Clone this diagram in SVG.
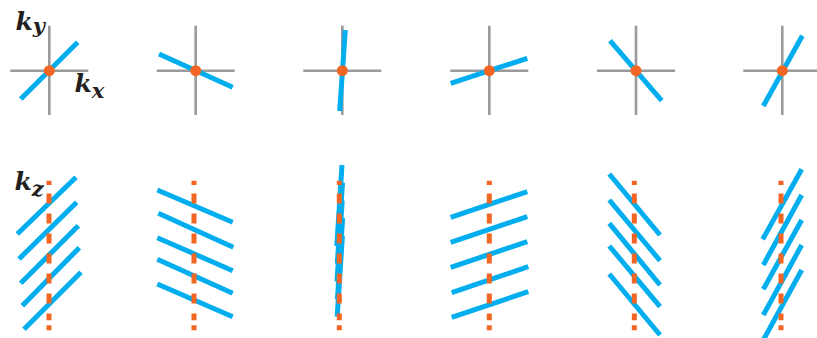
<svg xmlns="http://www.w3.org/2000/svg" width="817" height="338" viewBox="0 0 817 338">
<style>
.ax{stroke:#9a9a9a;stroke-width:2.6;fill:none}
.bl{stroke:#00aeef;stroke-width:5;fill:none}
.dot{fill:#f26522}
.dash{stroke:#f26522;stroke-width:5;fill:none;stroke-dasharray:4.3 8.6 10 10 10 10 10 10 10 10 10 10 10 10 6.7 5 5}
.lbl{font-family:"DejaVu Serif",serif;font-style:italic;font-weight:bold;fill:#231f20}
</style>
<g id="labels" class="lbl">
<text x="15.5" y="30" font-size="25">k<tspan dx="0" dy="3" font-size="21">y</tspan></text>
<text x="74.5" y="92" font-size="25">k<tspan dx="0" dy="6" font-size="21">x</tspan></text>
<text x="14.5" y="190" font-size="25">k<tspan dx="0" dy="6" font-size="21">z</tspan></text>
</g>
<g id="top1">
<line class="ax" x1="49.3" y1="25.7" x2="49.3" y2="115"/><line class="ax" x1="10.3" y1="70.7" x2="88.3" y2="70.7"/>
<line class="bl" x1="20.7" y1="99" x2="77.7" y2="42.3"/><circle class="dot" cx="49.3" cy="70.7" r="5.5"/>
</g>
<g id="top2">
<line class="ax" x1="195.7" y1="25.7" x2="195.7" y2="115"/><line class="ax" x1="156.7" y1="70.7" x2="234.7" y2="70.7"/>
<line class="bl" x1="159" y1="54" x2="232.7" y2="87.3"/><circle class="dot" cx="195.7" cy="70.7" r="5.5"/>
</g>
<g id="top3">
<line class="ax" x1="342.3" y1="25.7" x2="342.3" y2="115"/><line class="ax" x1="303.3" y1="70.7" x2="381.3" y2="70.7"/>
<line class="bl" x1="345.3" y1="30" x2="339.7" y2="111"/><circle class="dot" cx="342.3" cy="70.7" r="5.5"/>
</g>
<g id="top4">
<line class="ax" x1="489.3" y1="25.7" x2="489.3" y2="115"/><line class="ax" x1="450.3" y1="70.7" x2="528.3" y2="70.7"/>
<line class="bl" x1="450.7" y1="83.3" x2="527.3" y2="58.3"/><circle class="dot" cx="489.3" cy="70.7" r="5.5"/>
</g>
<g id="top5">
<line class="ax" x1="636" y1="25.7" x2="636" y2="115"/><line class="ax" x1="597" y1="70.7" x2="675" y2="70.7"/>
<line class="bl" x1="610" y1="40.7" x2="661.7" y2="100.7"/><circle class="dot" cx="636" cy="70.7" r="5.5"/>
</g>
<g id="top6">
<line class="ax" x1="782.3" y1="25.7" x2="782.3" y2="115"/><line class="ax" x1="743.3" y1="70.7" x2="821.3" y2="70.7"/>
<line class="bl" x1="763.3" y1="106" x2="802.3" y2="35.7"/><circle class="dot" cx="782.3" cy="70.7" r="5.5"/>
</g>
<g id="bottom1">
<line class="bl" x1="17.3" y1="234" x2="76" y2="177.3"/>
<line class="bl" x1="19" y1="259" x2="76.7" y2="202.3"/>
<line class="bl" x1="20.7" y1="283.3" x2="78.3" y2="225.7"/>
<line class="bl" x1="22.3" y1="305.7" x2="79.3" y2="247.7"/>
<line class="bl" x1="24" y1="329.3" x2="81" y2="272.3"/>
<line class="dash" x1="49" y1="180.7" x2="49" y2="330.3"/>
</g>
<g id="bottom2">
<line class="bl" x1="157.3" y1="190" x2="232.7" y2="222.3"/>
<line class="bl" x1="158.3" y1="213.3" x2="233.3" y2="247.3"/>
<line class="bl" x1="157.3" y1="237.7" x2="232.7" y2="270.7"/>
<line class="bl" x1="157.3" y1="259.3" x2="232.7" y2="293.3"/>
<line class="bl" x1="157.3" y1="284" x2="232.7" y2="316.7"/>
<line class="dash" x1="194" y1="180.7" x2="194" y2="330.3"/>
</g>
<g id="bottom3">
<line class="bl" x1="342" y1="165" x2="336.8" y2="246"/>
<line class="bl" x1="342.5" y1="182.7" x2="337.3" y2="263.7"/>
<line class="bl" x1="342.2" y1="200.5" x2="337" y2="281.5"/>
<line class="bl" x1="342.6" y1="218.2" x2="337.4" y2="299.2"/>
<line class="bl" x1="342.4" y1="235.7" x2="337.2" y2="316.7"/>
<line class="dash" x1="339.3" y1="180.7" x2="339.3" y2="330.3"/>
</g>
<g id="bottom4">
<line class="bl" x1="450.7" y1="217.3" x2="527.3" y2="191.7"/>
<line class="bl" x1="450.7" y1="242.3" x2="527.3" y2="216.7"/>
<line class="bl" x1="450.7" y1="267.3" x2="527.3" y2="241.7"/>
<line class="bl" x1="451.7" y1="292.7" x2="528.3" y2="266.7"/>
<line class="bl" x1="451.7" y1="317.3" x2="528.3" y2="291.7"/>
<line class="dash" x1="489.3" y1="180.7" x2="489.3" y2="330.3"/>
</g>
<g id="bottom5">
<line class="bl" x1="609.3" y1="174" x2="660" y2="235"/>
<line class="bl" x1="609.3" y1="200" x2="660" y2="260.7"/>
<line class="bl" x1="609.3" y1="223.3" x2="660" y2="285"/>
<line class="bl" x1="609.3" y1="246" x2="660" y2="306.7"/>
<line class="bl" x1="609.3" y1="274" x2="660" y2="335"/>
<line class="dash" x1="634.3" y1="180.7" x2="634.3" y2="330.3"/>
</g>
<g id="bottom6">
<line class="bl" x1="762.7" y1="239.3" x2="801.7" y2="169.3"/>
<line class="bl" x1="763.3" y1="265" x2="801.7" y2="195"/>
<line class="bl" x1="763.3" y1="289.3" x2="801.7" y2="220"/>
<line class="bl" x1="763.3" y1="315" x2="801.7" y2="245"/>
<line class="bl" x1="763.3" y1="340" x2="801.7" y2="270"/>
<line class="dash" x1="781" y1="180.7" x2="781" y2="330.3"/>
</g>
</svg>
